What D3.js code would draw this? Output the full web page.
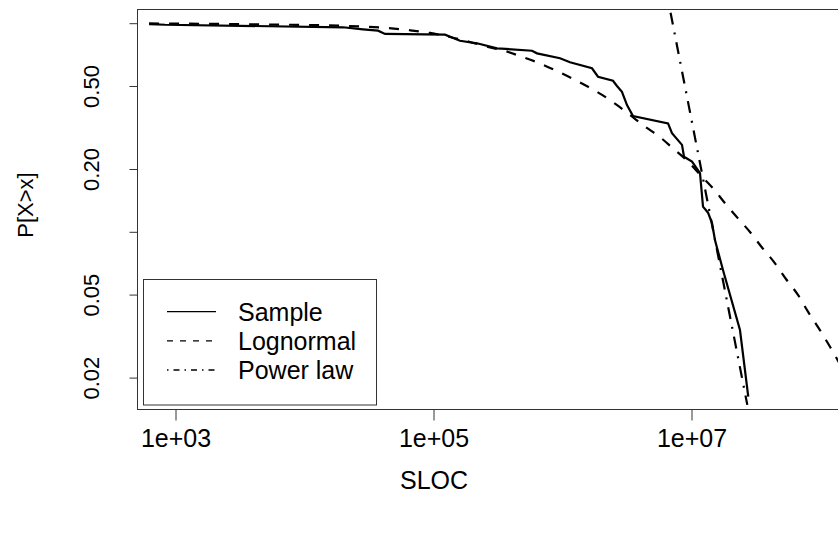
<!DOCTYPE html>
<html>
<head>
<meta charset="utf-8">
<script src="https://cdn.jsdelivr.net/npm/d3@7"></script>
<style>
	body { margin: 0; background: #fff; }
	text { font-family: "Liberation Sans", Arial, Helvetica, sans-serif; fill: #000; }
</style>
</head>
<body>
<script>
// empirical CCDF of the sample (SLOC, P[X>x])
const sampleSloc = [624, 830, 19860, 28400, 37150, 42100, 122800, 160400, 217300, 310500, 580000, 634400, 956800, 1143000, 1693000, 1885000, 2462000, 2644000, 2890000, 3162000, 3520000, 6580000, 7060000, 8440000, 8750000, 10090000, 11640000, 12280000, 13430000, 14420000, 15200000, 17540000, 23760000, 27540000];
const sampleP = [0.99, 0.983, 0.956, 0.935, 0.921, 0.888, 0.881, 0.824, 0.801, 0.758, 0.738, 0.717, 0.679, 0.65, 0.608, 0.554, 0.53, 0.5, 0.469, 0.405, 0.359, 0.331, 0.297, 0.261, 0.229, 0.217, 0.191, 0.132, 0.1235, 0.11, 0.0913, 0.0656, 0.0338, 0.0162];

// lognormal fit
const lognormSloc = [624, 3784, 21330, 44360, 65730, 93970, 134300, 191900, 264600, 358100, 468600, 645700, 874500, 1186000, 1578000, 2027000, 2650000, 3340000, 4370000, 5710000, 7190000, 9400000, 11640000, 14690000, 18200000, 22930000, 28400000, 35200000, 44400000, 54000000, 66900000, 80000000, 99000000, 118500000, 141600000];
const lognormP = [0.997, 0.988, 0.97, 0.948, 0.925, 0.898, 0.859, 0.813, 0.769, 0.736, 0.696, 0.647, 0.596, 0.544, 0.496, 0.453, 0.405, 0.363, 0.319, 0.284, 0.251, 0.217, 0.188, 0.1616, 0.137, 0.116, 0.0998, 0.0841, 0.0706, 0.0594, 0.0498, 0.0414, 0.0338, 0.0281, 0.0232];

// power law fit (straight on log-log)
const powerSloc = [6000000, 27080000];
const powerP = [1.73, 0.0148];

const xTicks = [1e3, 1e5, 1e7];
const xTickLabels = ["1e+03", "1e+05", "1e+07"];
const yTicks = [0.02, 0.05, 0.1, 0.2, 0.5, 1];
const yTickLabels = ["0.02", "0.05", "", "0.20", "0.50", ""];
const legendLabels = ["Sample", "Lognormal", "Power law"];

const width = 838;
const height = 535;
const box = { left: 137, top: 9, right: 840, bottom: 409 };

const svg = d3
	.select("body")
	.append("svg")
	.attr("width", width)
	.attr("height", height);

const x = d3.scaleLog().domain([1e3, 1e7]).range([175.5, 691.5]);
const y = d3.scaleLog().domain([1, 0.02]).range([23.2, 377.6]);

svg.append("defs")
	.append("clipPath")
	.attr("id", "plotclip")
	.append("rect")
	.attr("x", box.left)
	.attr("y", box.top)
	.attr("width", box.right - box.left)
	.attr("height", box.bottom - box.top);

const toPoints = (xs, ys) => xs.map((d, i) => [d, ys[i]]);
const line = d3
	.line()
	.x((d) => x(d[0]))
	.y((d) => y(d[1]));
const smooth = d3
	.line()
	.curve(d3.curveMonotoneX)
	.x((d) => x(d[0]))
	.y((d) => y(d[1]));

const series = [
	{ pts: toPoints(sampleSloc, sampleP), gen: line, dash: null },
	{ pts: toPoints(lognormSloc, lognormP), gen: smooth, dash: "10,10" },
	{ pts: toPoints(powerSloc, powerP), gen: line, dash: "2,8,12,8" }
];

const plot = svg.append("g").attr("clip-path", "url(#plotclip)");
series.forEach((s) => {
	plot.append("path")
		.attr("d", s.gen(s.pts))
		.attr("fill", "none")
		.attr("stroke", "#000")
		.attr("stroke-width", 2.2)
		.attr("stroke-dasharray", s.dash);
});

// plot frame
svg.append("rect")
	.attr("x", box.left + 0.5)
	.attr("y", box.top + 0.5)
	.attr("width", box.right - box.left)
	.attr("height", box.bottom - box.top)
	.attr("fill", "none")
	.attr("stroke", "#333")
	.attr("stroke-width", 1);

// x axis
const xAxis = svg
	.append("g")
	.attr("transform", `translate(0,${box.bottom + 0.5})`)
	.call(
		d3
			.axisBottom(x)
			.tickValues(xTicks)
			.tickSize(11)
			.tickFormat((d, i) => xTickLabels[i])
	);
xAxis.select(".domain").remove();
xAxis.selectAll("line").attr("stroke", "#333");
xAxis.selectAll("text")
	.attr("y", 37)
	.attr("dy", null)
	.attr("font-size", 25)
	.attr("font-family", null);

// y axis
const yAxis = svg
	.append("g")
	.attr("transform", `translate(${box.left + 0.5},0)`)
	.call(
		d3
			.axisLeft(y)
			.tickValues(yTicks)
			.tickSize(8)
			.tickFormat((d, i) => yTickLabels[i])
	);
yAxis.select(".domain").remove();
yAxis.selectAll("line").attr("stroke", "#333");
yAxis.selectAll("text")
	.attr("x", null)
	.attr("dy", null)
	.attr("text-anchor", "middle")
	.attr("transform", "translate(-39,0) rotate(-90)")
	.attr("font-size", 22)
	.attr("font-family", null);

// axis titles
svg.append("text")
	.attr("x", 434)
	.attr("y", 489)
	.attr("text-anchor", "middle")
	.attr("font-size", 25)
	.text("SLOC");

svg.append("text")
	.attr("transform", "translate(33,205) rotate(-90)")
	.attr("text-anchor", "middle")
	.attr("font-size", 22)
	.text("P[X>x]");

// legend
const legend = svg.append("g");
legend.append("rect")
	.attr("x", 143.5)
	.attr("y", 279.5)
	.attr("width", 233)
	.attr("height", 125.5)
	.attr("fill", "#fff")
	.attr("stroke", "#333")
	.attr("stroke-width", 1);

const legendDash = [null, "6,7", "1.5,5,6,5"];
const legendY = d3.scalePoint().domain(legendLabels).range([311.7, 370]);
legendLabels.forEach((lab, i) => {
	legend.append("line")
		.attr("x1", 167)
		.attr("x2", 216)
		.attr("y1", legendY(lab))
		.attr("y2", legendY(lab))
		.attr("stroke", "#000")
		.attr("stroke-width", 1.3)
		.attr("stroke-dasharray", legendDash[i]);
	legend.append("text")
		.attr("x", 238)
		.attr("y", legendY(lab))
		.attr("dy", "0.36em")
		.attr("font-size", 25)
		.text(lab);
});
</script>
</body>
</html>
